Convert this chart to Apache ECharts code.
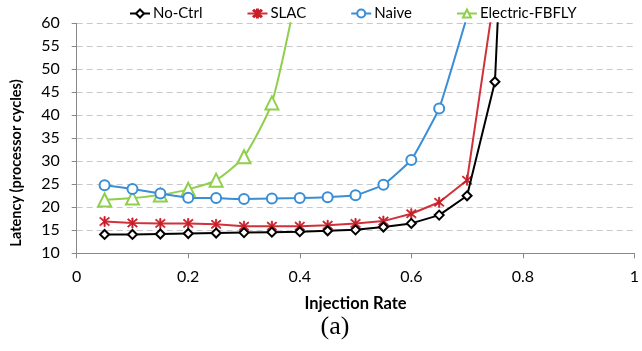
<!DOCTYPE html>
<html>
<head>
<meta charset="utf-8">
<script src="https://cdn.jsdelivr.net/npm/echarts@6/dist/echarts.min.js"></script>
<style>
  html, body { margin: 0; padding: 0; background: #fff; }
  #chart { width: 642px; height: 351px; }
</style>
</head>
<body>
<div id="chart"></div>
<script>
// injection rates (x) for each sample
const rates = [0.05, 0.1, 0.15, 0.2, 0.25, 0.3, 0.35, 0.4, 0.45, 0.5, 0.55, 0.6, 0.65, 0.7, 0.75, 0.8];

// latency values (processor cycles)
const noCtrl = [14.1, 14.1, 14.2, 14.3, 14.4, 14.5, 14.6, 14.7, 14.9, 15.1, 15.7, 16.5, 18.3, 22.5, 47.3, 180];
const slac   = [16.9, 16.6, 16.5, 16.5, 16.3, 15.9, 15.9, 15.9, 16.1, 16.5, 17.0, 18.6, 21.1, 25.9, 67];
const naive  = [24.8, 24.0, 23.0, 22.1, 22.0, 21.8, 21.9, 22.0, 22.2, 22.6, 24.9, 30.3, 41.5, 61.5];
const fbfly  = [21.6, 22.0, 22.7, 23.9, 25.9, 31.0, 42.7, 70];

const names = ['No-Ctrl', 'SLAC', 'Naive', 'Electric-FBFLY'];

function pairs(vals) {
    return vals.map(function (v, i) { return [rates[i], v]; });
}

const asterisk = 'path://M9,0L11,0L11,20L9,20Z M1.5,3L3,1.5L18.5,17L17,18.5Z M17,1.5L18.5,3L3,18.5L1.5,17Z';

const chart = echarts.init(document.getElementById('chart'));

const fontAxis = 'Lato';

chart.setOption({
    animation: false,
    backgroundColor: '#fff',
    grid: { left: 76.7, right: 3.3, top: 23.3, bottom: 97.7, containLabel: false },
    legend: {
        top: 1,
        left: 124,
        itemWidth: 20,
        itemHeight: 10,
        itemGap: 44,
        textStyle: { fontFamily: fontAxis, fontSize: 15, color: '#000', padding: [0, 0, 0, -2] },
        data: names
    },
    xAxis: {
        type: 'value',
        min: 0, max: 1, interval: 0.2,
        name: 'Injection Rate',
        nameLocation: 'middle',
        nameGap: 42,
        nameTextStyle: { fontFamily: fontAxis, fontSize: 16.5, fontWeight: 'bold', color: '#000' },
        axisLine: { lineStyle: { color: '#888', width: 1 } },
        axisTick: { show: true, length: 5, lineStyle: { color: '#888' } },
        axisLabel: { fontFamily: fontAxis, fontSize: 16, color: '#000', margin: 16 },
        splitLine: { show: false }
    },
    yAxis: {
        type: 'value',
        min: 10, max: 60, interval: 5,
        axisLine: { show: true, lineStyle: { color: '#888', width: 1 } },
        axisTick: { show: true, length: 5, lineStyle: { color: '#888' } },
        axisLabel: { fontFamily: fontAxis, fontSize: 16, color: '#000', margin: 17 },
        splitLine: { lineStyle: { color: '#c8c8c8', type: [6, 4], width: 1 } }
    },
    graphic: [
        {
            type: 'text',
            x: 16.5, y: 163,
            rotation: Math.PI / 2,
            style: {
                text: 'Latency (processor cycles)',
                fontFamily: fontAxis, fontSize: 14.5, fontWeight: 'bold', fill: '#000',
                align: 'center', verticalAlign: 'middle'
            }
        },
        {
            type: 'text',
            x: 335, y: 327,
            style: {
                text: '(a)',
                fontFamily: 'Liberation Serif', fontSize: 26, fill: '#000',
                align: 'center', verticalAlign: 'middle'
            }
        }
    ],
    series: [
        {
            name: names[0], type: 'line', data: pairs(noCtrl), smooth: false, clip: true,
            symbol: 'emptyDiamond', symbolSize: 9,
            lineStyle: { color: '#000', width: 2 },
            itemStyle: { color: '#000', borderWidth: 1.5 },
            z: 4
        },
        {
            name: names[1], type: 'line', data: pairs(slac), smooth: false, clip: true,
            symbol: asterisk, symbolSize: 10,
            lineStyle: { color: '#d0313a', width: 2 },
            itemStyle: { color: '#c81e28', borderColor: '#c81e28', borderWidth: 0.8 },
            z: 3
        },
        {
            name: names[2], type: 'line', data: pairs(naive), smooth: 0.1, clip: true,
            symbol: 'emptyCircle', symbolSize: 10,
            lineStyle: { color: '#3a8ed6', width: 2 },
            itemStyle: { color: '#3a8ed6', borderWidth: 2 },
            z: 2
        },
        {
            name: names[3], type: 'line', data: pairs(fbfly), smooth: 0.2, clip: true,
            symbol: 'emptyTriangle', symbolSize: 13,
            lineStyle: { color: '#8fcf4c', width: 2 },
            itemStyle: { color: '#8fcf4c', borderWidth: 1.8 },
            z: 1
        }
    ]
});
</script>
</body>
</html>
